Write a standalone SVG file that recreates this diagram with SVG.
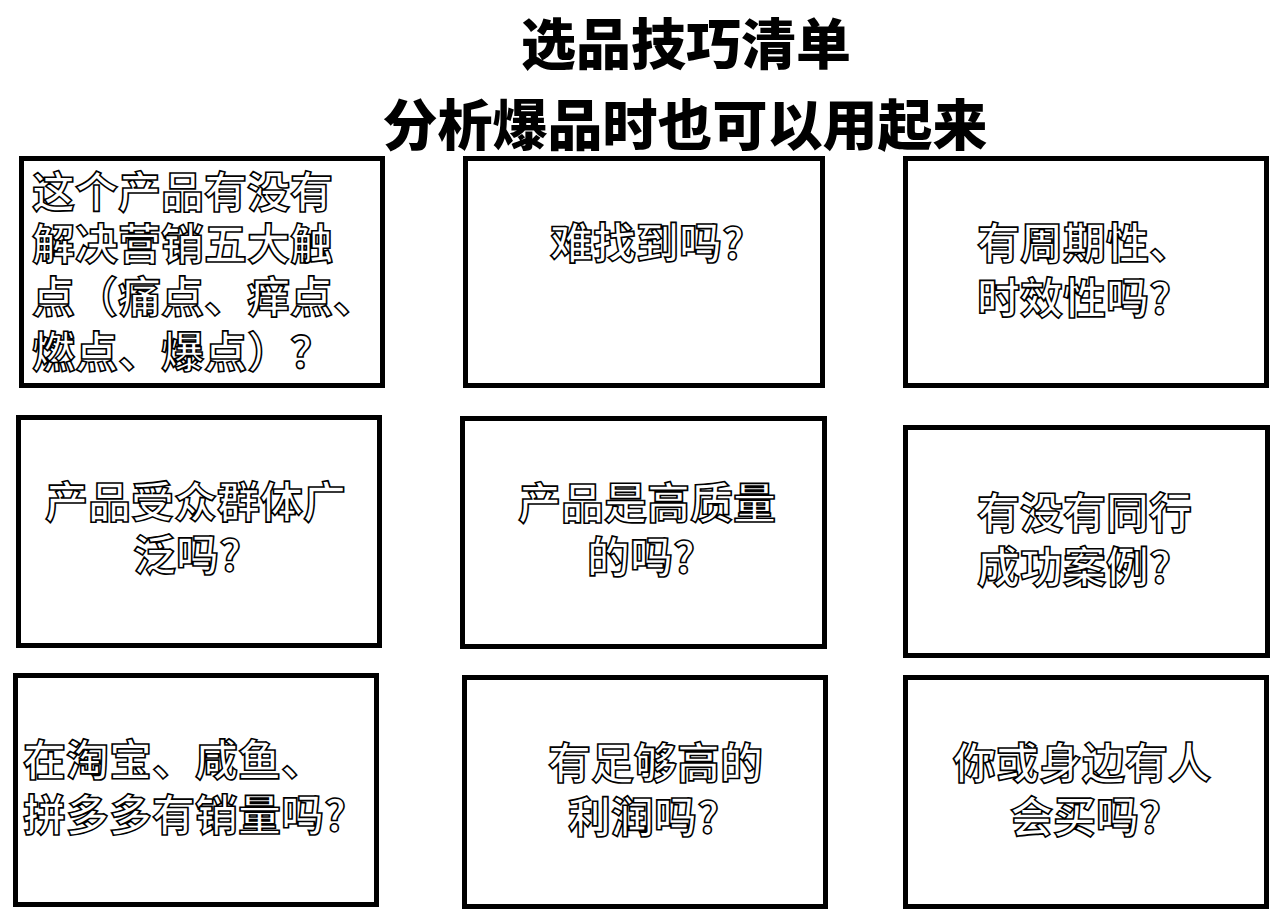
<svg xmlns="http://www.w3.org/2000/svg" width="1280" height="922" viewBox="0 0 1280 922">
<style>
.bg{fill:#ffffff}
.box{fill:#ffffff;stroke:#000000;stroke-width:5}
.t{font-family:"Noto Sans CJK SC","Noto Sans CJK JP",sans-serif;font-size:43px;font-weight:700;fill:#ffffff;stroke:#000000;stroke-width:1.6}
.title{font-family:"Noto Sans CJK SC","Noto Sans CJK JP",sans-serif;font-size:55px;font-weight:900;fill:#000000;text-anchor:middle}
</style>
<rect class="bg" x="0" y="0" width="1280" height="922"/>
<g id="title">
<text class="title" x="686" y="64">选品技巧清单</text>
<text class="title" x="685" y="145">分析爆品时也可以用起来</text>
</g>
<g id="connectors"></g>
<g id="node1">
<rect class="box" x="21.5" y="158.5" width="361" height="227"/>
<text class="t" x="32" y="208">这个产品有没有</text>
<text class="t" x="32" y="260">解决营销五大触</text>
<text class="t" x="32" y="313">点（痛点、痒点、</text>
<text class="t" x="32" y="368">燃点、爆点）？</text>
</g>
<g id="node2">
<rect class="box" x="465.5" y="158.5" width="357" height="227"/>
<text class="t" x="550" y="259">难找到吗?</text>
</g>
<g id="node3">
<rect class="box" x="905.5" y="158.5" width="361" height="227"/>
<text class="t" x="977" y="259">有周期性、</text>
<text class="t" x="977" y="314">时效性吗?</text>
</g>
<g id="node4">
<rect class="box" x="18.5" y="417.5" width="361" height="228"/>
<text class="t" x="45" y="518">产品受众群体广</text>
<text class="t" x="133" y="571">泛吗?</text>
</g>
<g id="node5">
<rect class="box" x="462.5" y="418.5" width="362" height="228"/>
<text class="t" x="518" y="519">产品是高质量</text>
<text class="t" x="587" y="573">的吗?</text>
</g>
<g id="node6">
<rect class="box" x="905.5" y="427.5" width="362" height="228"/>
<text class="t" x="977" y="529">有没有同行</text>
<text class="t" x="977" y="583">成功案例?</text>
</g>
<g id="node7">
<rect class="box" x="15.5" y="675.5" width="361" height="229"/>
<text class="t" x="23" y="776">在淘宝、咸鱼、</text>
<text class="t" x="23" y="831">拼多多有销量吗?</text>
</g>
<g id="node8">
<rect class="box" x="464.5" y="677.5" width="361" height="229"/>
<text class="t" x="548" y="779">有足够高的</text>
<text class="t" x="568" y="833">利润吗?</text>
</g>
<g id="node9">
<rect class="box" x="905.5" y="677.5" width="361" height="229"/>
<text class="t" x="953" y="779">你或身边有人</text>
<text class="t" x="1010" y="833">会买吗?</text>
</g>
</svg>
